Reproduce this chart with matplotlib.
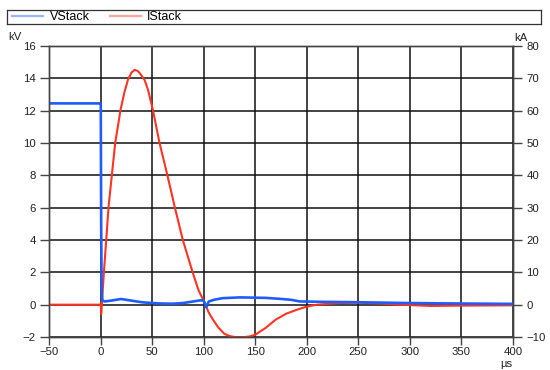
import matplotlib
matplotlib.use("Agg")
import matplotlib.pyplot as plt
from matplotlib.lines import Line2D

plt.rcParams['font.family'] = ['Liberation Sans', 'DejaVu Sans']

# Stack voltage (kV) versus time (µs)
v_time = [-50, -20, -0.5, 0.2, 0.6, 1.0, 1.5, 2, 4, 10, 15, 20, 25, 30, 40, 50, 60,
          70, 80, 90, 97, 100, 102.5, 105, 110, 118, 135, 160, 174, 185, 193,
          210, 250, 300, 350, 400]
v_stack = [12.45, 12.45, 12.45, 12.4, 5.0, 1.0, 0.4, 0.25, 0.2, 0.25, 0.3, 0.35,
           0.3, 0.25, 0.15, 0.1, 0.07, 0.06, 0.1, 0.2, 0.27, 0.25, -0.15, 0.2,
           0.3, 0.4, 0.45, 0.42, 0.36, 0.3, 0.2, 0.18, 0.15, 0.1, 0.07, 0.05]

# Stack current (kA) versus time (µs)
i_time = [-50, -1, 0.3, 0.6, 1.2, 3.2, 5.5, 7.8, 11, 14.2, 19.4, 23, 26.5, 30, 33,
          36, 39, 42.7, 46, 50.7, 57.2, 64.7, 71.8, 79.8, 89.5, 95, 101, 105, 109,
          114, 120, 125, 130, 135, 140, 145, 150, 160, 170, 180, 191, 200, 210,
          230, 250, 270, 290, 320, 350, 400]
i_stack = [0, 0, 0, -2.9, 0, 9.8, 20, 30.4, 40.2, 50, 60.3, 65.5, 69.5, 71.8, 72.6,
           72.3, 71.2, 69.5, 66.5, 60.3, 50, 40.2, 30.4, 20, 9.8, 4.5, 0.5, -2.5,
           -4.6, -7, -9.0, -9.7, -10.0, -10.1, -10.0, -9.8, -9.3, -7.2, -4.6, -2.8,
           -1.5, -0.6, 0, 0.5, 0.6, 0.4, 0, -0.4, -0.3, -0.2]

x_ticks = [-50, 0, 50, 100, 150, 200, 250, 300, 350, 400]
kv_ticks = [-2, 0, 2, 4, 6, 8, 10, 12, 14, 16]
ka_ticks = [-10, 0, 10, 20, 30, 40, 50, 60, 70, 80]

blue = '#1f5cff'
red = '#ff3322'
ink = '#222222'
fs = 8.2

fig = plt.figure(figsize=(5.5, 3.7), dpi=100)
left, right = 49 / 550, 513 / 550
bottom, top = 1 - 337 / 370, 1 - 46 / 370

ax_i = fig.add_axes([left, bottom, right - left, top - bottom])
ax_v = fig.add_axes([left, bottom, right - left, top - bottom], sharex=ax_i)
ax_v.patch.set_visible(False)

# current on the right-hand axis, drawn underneath
ax_i.plot(i_time, i_stack, color=red, lw=1.5, solid_joinstyle='round')
ax_i.set_ylim(-10, 80)
ax_i.set_yticks(ka_ticks)
ax_i.yaxis.tick_right()
ax_i.set_xlim(-50, 400)
ax_i.set_xticks(x_ticks)
ax_i.grid(True, color='#111111', lw=1.1)
ax_i.set_axisbelow(True)

# voltage on the left-hand axis, drawn on top
ax_v.plot(v_time, v_stack, color=blue, lw=1.9, solid_joinstyle='round')
ax_v.set_ylim(-2, 16)
ax_v.set_yticks(kv_ticks)
ax_v.yaxis.tick_left()
ax_v.tick_params(axis='x', which='both', bottom=False, labelbottom=False)

for ax in (ax_i, ax_v):
    for s in ax.spines.values():
        s.set_color('#444444')
        s.set_linewidth(1.0)
    ax.tick_params(axis='y', direction='out', length=6.5, width=1.0, color='#444444',
                   labelsize=fs, labelcolor=ink, pad=3)
ax_i.tick_params(axis='x', direction='out', length=5.5, width=1.0, color='#444444',
                 labelsize=fs, labelcolor=ink, pad=1.5)

fig.text(8 / 550, 1 - 37 / 370, 'kV', fontsize=fs, color=ink, va='center', ha='left')
fig.text(514 / 550, 1 - 38 / 370, 'kA', fontsize=fs, color=ink, va='center', ha='left')
fig.text(506 / 550, 1 - 364 / 370, 'µs', fontsize=fs, color=ink, va='center', ha='center')

# legend strip across the top
leg_ax = fig.add_axes([7 / 550, 1 - 24 / 370, 534 / 550, 14 / 370])
leg_ax.set_xticks([])
leg_ax.set_yticks([])
for s in leg_ax.spines.values():
    s.set_color('#333333')
    s.set_linewidth(0.9)
handles = [Line2D([], [], color=blue, lw=1.6, alpha=0.45),
           Line2D([], [], color=red, lw=1.6, alpha=0.45)]
leg_ax.legend(handles, ['VStack', 'IStack'], loc='center left', ncol=2,
              frameon=False, fontsize=9, handlelength=2.5, handletextpad=0.5,
              columnspacing=1.6, borderaxespad=0.4, borderpad=0.0,
              bbox_to_anchor=(0.0, 0.5))

fig.savefig('out.png', dpi=100)
